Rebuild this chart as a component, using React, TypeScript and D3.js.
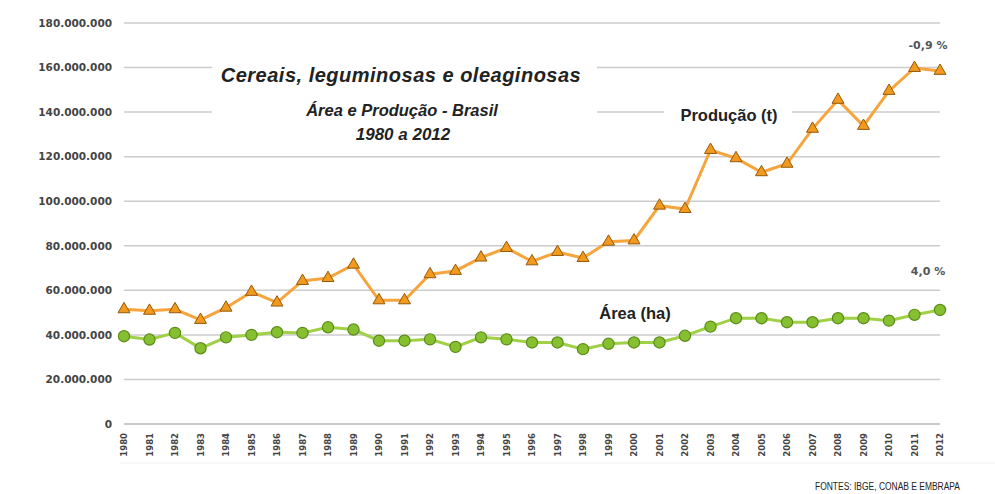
import * as d3 from 'd3';

// values in millions
const years = d3.range(1980, 2013);
const producao = [
  51.5, 50.8, 51.5, 46.7, 52.2, 59.3, 54.5, 64.2, 65.5, 71.5, 55.5, 55.5, 67.2,
  68.7, 74.7, 79.0, 73.0, 77.2, 74.5, 81.8, 82.4, 98.0, 96.5, 123.0, 119.3,
  113.0, 116.8, 132.5, 145.5, 133.8, 149.5, 159.8, 158.5,
];
const area = [
  39.4, 37.9, 40.9, 34.0, 38.9, 40.0, 41.2, 40.9, 43.4, 42.4, 37.4, 37.4, 38.0,
  34.6, 38.9, 38.0, 36.6, 36.6, 33.6, 36.0, 36.6, 36.6, 39.6, 43.7, 47.5, 47.5,
  45.7, 45.7, 47.5, 47.5, 46.4, 49.0, 51.2,
];
const yTicks = [0, 20, 40, 60, 80, 100, 120, 140, 160, 180];

const W = 995;
const H = 494;
const GRID_LEFT = 124;
const GRID_RIGHT = 940;

const fmt = (v: number) =>
  v === 0 ? '0' : d3.format(',')(v * 1e6).replace(/,/g, '.');

export default function App() {
  const x = d3.scalePoint<number>().domain(years).range([124, 940]);
  const y = d3.scaleLinear().domain([0, 180]).range([424, 23]);

  const line = d3
    .line<number>()
    .x((_, i) => x(years[i])!)
    .y((d) => y(d));

  const tri = d3.symbol().type(d3.symbolTriangle).size(62)()!;

  return (
    <svg
      width={W}
      height={H}
      style={{ position: 'absolute', left: 0, top: 0, background: '#fff' }}
    >
      {/* gridlines */}
      {yTicks.map((t) => (
        <g key={t}>
          <line
            x1={GRID_LEFT}
            x2={GRID_RIGHT}
            y1={y(t)}
            y2={y(t)}
            stroke={t === 0 ? '#b8b8b8' : '#cccccc'}
            strokeWidth={1.5}
          />
          <text
            x={112}
            y={y(t)}
            dy="0.36em"
            textAnchor="end"
            fontFamily="DejaVu Sans, Verdana, sans-serif"
            fontWeight="bold"
            fontSize={10.5}
            fill="#444"
          >
            {fmt(t)}
          </text>
        </g>
      ))}

      {/* title block covering gridlines */}
      <rect x={212} y={52} width={385} height={95} fill="#fff" />
      <rect x={664} y={100} width={128} height={28} fill="#fff" />

      <g
        fontFamily="Liberation Sans, Arial, sans-serif"
        fontWeight="bold"
        fontStyle="italic"
        fill="#222"
        textAnchor="middle"
      >
        <text x={401} y={82} fontSize={20} letterSpacing={0.5}>
          Cereais, leguminosas e oleaginosas
        </text>
        <text x={402} y={116} fontSize={16.5}>
          Área e Produção - Brasil
        </text>
        <text x={403} y={140} fontSize={17}>
          1980 a 2012
        </text>
      </g>
      <g
        fontFamily="Liberation Sans, Arial, sans-serif"
        fontWeight="bold"
        fill="#222"
        textAnchor="middle"
      >
        <text x={729} y={121} fontSize={16.5}>
          Produção (t)
        </text>
        <text x={635} y={319} fontSize={16.5}>
          Área (ha)
        </text>
      </g>
      <g
        fontFamily="DejaVu Sans, Verdana, sans-serif"
        fontWeight="bold"
        fill="#555"
        fontSize={11}
        textAnchor="middle"
      >
        <text x={928} y={49}>
          -0,9 %
        </text>
        <text x={928} y={275}>
          4,0 %
        </text>
      </g>

      {/* series */}
      <path d={line(area)!} fill="none" stroke="#9fd045" strokeWidth={3} />
      <path d={line(producao)!} fill="none" stroke="#f6a43c" strokeWidth={3} />
      {area.map((v, i) => (
        <circle
          key={'a' + i}
          cx={x(years[i])}
          cy={y(v)}
          r={5.6}
          fill="#86c031"
          stroke="#5a8c18"
          strokeWidth={1.2}
        />
      ))}
      {producao.map((v, i) => (
        <path
          key={'p' + i}
          d={tri}
          transform={`translate(${x(years[i])},${y(v)})`}
          fill="#f29a1e"
          stroke="#95590a"
          strokeWidth={1}
        />
      ))}

      {/* x labels */}
      {years.map((yr) => (
        <text
          key={yr}
          transform={`translate(${x(yr)! + 3},433) rotate(-90)`}
          textAnchor="end"
          fontFamily="DejaVu Sans, Verdana, sans-serif"
          fontWeight="bold"
          fontSize={8.5}
          fill="#444"
        >
          {yr}
        </text>
      ))}

      <line x1={120} x2={W} y1={463} y2={463} stroke="#f0f0f0" strokeWidth={1} />

      <text
        x={815}
        y={490}
        fontFamily="Liberation Sans, Arial, sans-serif"
        fontSize={10}
        fill="#222"
        textLength={145}
        lengthAdjust="spacingAndGlyphs"
      >
        FONTES: IBGE, CONAB E EMBRAPA
      </text>
    </svg>
  );
}
